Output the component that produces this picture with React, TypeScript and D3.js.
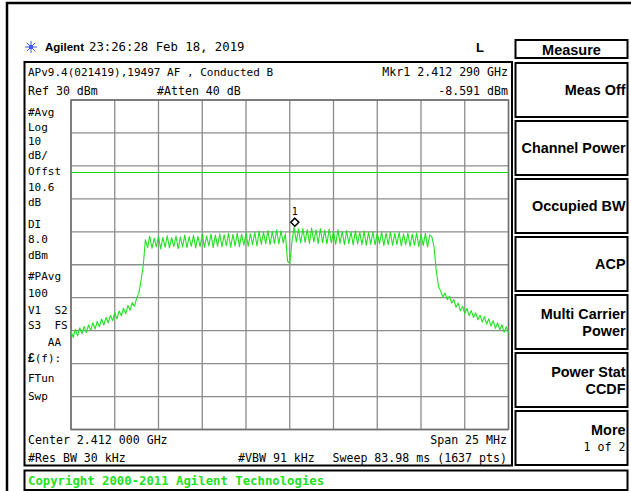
import React from "react";
import * as d3 from "d3";

// trace: 201 points across the 25 MHz span, in dBm
const traceDbm: number[] = [
  -40.2, -42.0, -39.6, -41.6, -39.2, -40.9, -38.7, -40.6, -38.3, -40.0,
  -37.6, -39.5, -37.2, -38.8, -36.5, -38.3, -36.0, -37.6, -35.4, -37.0,
  -34.6, -36.4, -34.0, -35.5, -33.2, -34.9, -32.4, -33.8, -31.5, -32.6,
  -30.2, -28.6, -24.8, -20.5, -12.4, -14.8, -11.3, -15.0, -11.9, -14.6,
  -11.4, -15.2, -11.7, -14.7, -11.2, -14.9, -11.8, -14.5, -11.3, -15.1,
  -11.6, -14.6, -11.0, -14.8, -11.5, -14.4, -11.1, -14.9, -11.4, -14.5,
  -10.8, -14.7, -11.2, -14.3, -10.7, -14.8, -11.0, -14.4, -10.6, -14.6,
  -10.9, -14.2, -10.5, -14.7, -10.8, -14.3, -10.4, -14.5, -10.7, -14.1,
  -10.3, -14.4, -10.6, -13.9, -10.2, -14.3, -9.8, -13.8, -10.1, -13.6,
  -9.6, -13.9, -9.9, -13.5, -9.4, -13.7, -9.7, -13.4, -10.6, -18.9,
  -19.6, -13.0, -8.6, -13.1, -9.1, -13.4, -9.0, -13.2, -9.3, -13.5,
  -8.9, -13.1, -9.4, -13.6, -9.0, -13.3, -9.5, -13.7, -9.2, -13.4,
  -9.7, -13.8, -9.4, -13.5, -9.9, -13.9, -9.6, -13.6, -10.0, -14.0,
  -9.7, -13.7, -10.1, -13.9, -9.8, -14.1, -10.2, -13.8, -9.9, -14.0,
  -10.3, -13.7, -10.0, -14.2, -10.4, -13.9, -10.1, -14.1, -10.5, -13.8,
  -10.2, -14.3, -10.6, -14.0, -10.3, -14.4, -10.7, -14.1, -10.4, -14.5,
  -10.8, -14.2, -10.5, -14.6, -10.9, -11.6, -14.8, -22.0, -26.5, -28.0,
  -29.8, -28.6, -30.6, -29.5, -31.6, -30.6, -32.9, -31.6, -34.0, -32.6,
  -34.8, -33.2, -35.4, -33.9, -36.0, -34.6, -36.7, -35.3, -37.4, -35.8,
  -38.0, -36.4, -38.6, -37.0, -39.3, -37.6, -39.7, -38.2, -40.5, -38.8,
  -40.6,
];

const spanMHz = 25;
const refLevel = 30;
const dbPerDiv = 10;
const divisions = 10;
const displayLineDbm = 8.0;
const markerOffsetMHz = 0.29;
const markerDbm = -8.591;

const sideLabels = [
  "#Avg", "Log", "10", "dB/", "Offst", "10.6", "dB", "DI", "8.0", "dBm",
  "#PAvg", "100", "V1  S2", "S3  FS", "   AA", "(f):", "FTun", "Swp",
];
const softkeyTitle = "Measure";
const softkeys: string[][] = [
  ["Meas Off"],
  ["Channel Power"],
  ["Occupied BW"],
  ["ACP"],
  ["Multi Carrier", "Power"],
  ["Power Stat", "CCDF"],
  ["More", "1 of 2"],
];

// layout
const W = 631;
const H = 491;
const grid = { left: 71, right: 508.5, top: 100, bottom: 429.5 };
const sideLabelY = [112, 127, 141, 155, 171, 187, 202, 224, 239, 255, 276, 293, 310, 325, 342, 358, 378, 396];
const mono = "'DejaVu Sans Mono', monospace";
const sans = "'Liberation Sans', Arial, sans-serif";
const green = "#22e022";

const App = () => {
  const x = d3.scaleLinear().domain([-spanMHz / 2, spanMHz / 2]).range([grid.left, grid.right]);
  const y = d3
    .scaleLinear()
    .domain([refLevel - dbPerDiv * divisions, refLevel])
    .range([grid.bottom, grid.top]);
  const idxToMHz = d3.scaleLinear().domain([0, traceDbm.length - 1]).range([-spanMHz / 2, spanMHz / 2]);

  const line = d3
    .line<number>()
    .x((_, i) => x(idxToMHz(i)))
    .y((d) => y(d));

  const xGrid = d3.range(divisions + 1).map((k) => -spanMHz / 2 + (k * spanMHz) / divisions);
  const yGrid = d3.range(divisions + 1).map((k) => refLevel - k * dbPerDiv);

  const mx = x(markerOffsetMHz);
  const my = y(markerDbm) - 5;

  // 閃光圖示
  const burst = d3.range(8).map((k) => (k * Math.PI) / 4);

  return (
    <svg
      width={W}
      height={H}
      style={{ position: "absolute", left: 0, top: 0, background: "#fff" }}
    >
      <rect x={0} y={0} width={W} height={H} fill="#fff" />
      {/* outer frame */}
      <rect x={7} y={3} width={W} height={H} fill="none" stroke="#000" strokeWidth={2.5} />

      {/* title row */}
      <g stroke="#3a5cff" strokeWidth={1}>
        {burst.map((a, i) => (
          <line
            key={i}
            x1={31 + Math.cos(a) * 2}
            y1={47 + Math.sin(a) * 2}
            x2={31 + Math.cos(a) * 6}
            y2={47 + Math.sin(a) * 6}
          />
        ))}
        <rect x={29.5} y={45.5} width={3} height={3} fill="#3a5cff" />
      </g>
      <text x={45} y={47} dominantBaseline="central" fontFamily={sans} fontWeight="bold" fontSize={11.5}>
        Agilent
      </text>
      <text x={89} y={47} dominantBaseline="central" fontFamily={mono} fontSize={12.3}>
        23:26:28 Feb 18, 2019
      </text>
      <text x={476} y={47} dominantBaseline="central" fontFamily={sans} fontWeight="bold" fontSize={13}>
        L
      </text>
      <rect x={515.5} y={40} width={112} height={18} fill="none" stroke="#000" strokeWidth={2} />
      <text x={571.5} y={49.5} textAnchor="middle" dominantBaseline="central" fontFamily={sans} fontWeight="bold" fontSize={14.5}>
        {softkeyTitle}
      </text>

      {/* main display box */}
      <rect x={24.5} y={62} width={487.5} height={403.5} fill="none" stroke="#000" strokeWidth={2} />
      <g fontFamily={mono} fontSize={11.6} dominantBaseline="central" xmlSpace="preserve">
        <text x={28} y={72} fontSize={11}>APv9.4(021419),19497 AF , Conducted B</text>
        <text x={508} y={72} textAnchor="end">Mkr1  2.412 290 GHz</text>
        <text x={28} y={91}>Ref 30 dBm</text>
        <text x={157} y={91}>#Atten 40 dB</text>
        <text x={508} y={91} textAnchor="end">-8.591 dBm</text>
        <text x={28} y={440}>Center 2.412 000 GHz</text>
        <text x={507} y={440} textAnchor="end">Span 25 MHz</text>
        <text x={28} y={458}>#Res BW 30 kHz</text>
        <text x={238} y={458}>#VBW 91 kHz</text>
        <text x={507} y={458} textAnchor="end">Sweep 83.98 ms (1637 pts)</text>
      </g>

      {/* side annotation */}
      <g fontFamily={mono} fontSize={11} dominantBaseline="central" xmlSpace="preserve">
        {sideLabels.map((s, i) => (
          <text key={i} x={28} y={sideLabelY[i]} xmlSpace="preserve">
            {s === "(f):" ? (
              <>
                <tspan fontWeight="bold" fontFamily={sans} fontSize={12}>£</tspan>
                {s}
              </>
            ) : (
              s
            )}
          </text>
        ))}
      </g>

      {/* graticule */}
      <g stroke="#8c8c8c" strokeWidth={1.3}>
        {xGrid.map((f, i) => (
          <line key={"v" + i} x1={x(f)} x2={x(f)} y1={grid.top} y2={grid.bottom} />
        ))}
        {yGrid.map((v, i) => (
          <line key={"h" + i} x1={grid.left} x2={grid.right} y1={y(v)} y2={y(v)} />
        ))}
      </g>
      <rect
        x={grid.left}
        y={grid.top}
        width={grid.right - grid.left}
        height={grid.bottom - grid.top}
        fill="none"
        stroke="#6e6e6e"
        strokeWidth={1.5}
      />

      {/* display line */}
      <line
        x1={grid.left}
        x2={grid.right}
        y1={y(displayLineDbm)}
        y2={y(displayLineDbm)}
        stroke="#11dd11"
        strokeWidth={1.2}
      />

      {/* trace */}
      <path d={line(traceDbm) ?? ""} fill="none" stroke={green} strokeWidth={1.1} strokeLinejoin="round" />

      {/* marker */}
      <path
        d={`M${mx},${my - 4}L${mx + 4},${my}L${mx},${my + 4}L${mx - 4},${my}Z`}
        fill="#fff"
        stroke="#000"
        strokeWidth={1.5}
      />
      <text x={mx} y={my - 11} textAnchor="middle" dominantBaseline="central" fontFamily={mono} fontSize={10}>
        1
      </text>

      {/* softkeys */}
      {softkeys.map((lines, k) => {
        const top = 63 + k * 58;
        const n = lines.length;
        return (
          <g key={k}>
            <rect x={515.5} y={top} width={112} height={54} fill="none" stroke="#000" strokeWidth={2} />
            {lines.map((t, j) => {
              const isSub = k === softkeys.length - 1 && j === 1;
              const cy = n === 1 ? top + 27 : top + 19 + j * 17;
              return (
                <text
                  key={j}
                  x={625.5}
                  y={cy}
                  textAnchor="end"
                  dominantBaseline="central"
                  fontFamily={isSub ? mono : sans}
                  fontWeight={isSub ? "normal" : "bold"}
                  fontSize={isSub ? 11.6 : 14.4}
                >
                  {t}
                </text>
              );
            })}
          </g>
        );
      })}

      {/* copyright bar */}
      <rect x={24.5} y={470.5} width={603} height={19.5} fill="none" stroke="#000" strokeWidth={2} />
      <text x={28} y={481} dominantBaseline="central" fontFamily={mono} fontWeight="bold" fontSize={12.3} fill={green}>
        Copyright 2000-2011 Agilent Technologies
      </text>
    </svg>
  );
};

export default App;
